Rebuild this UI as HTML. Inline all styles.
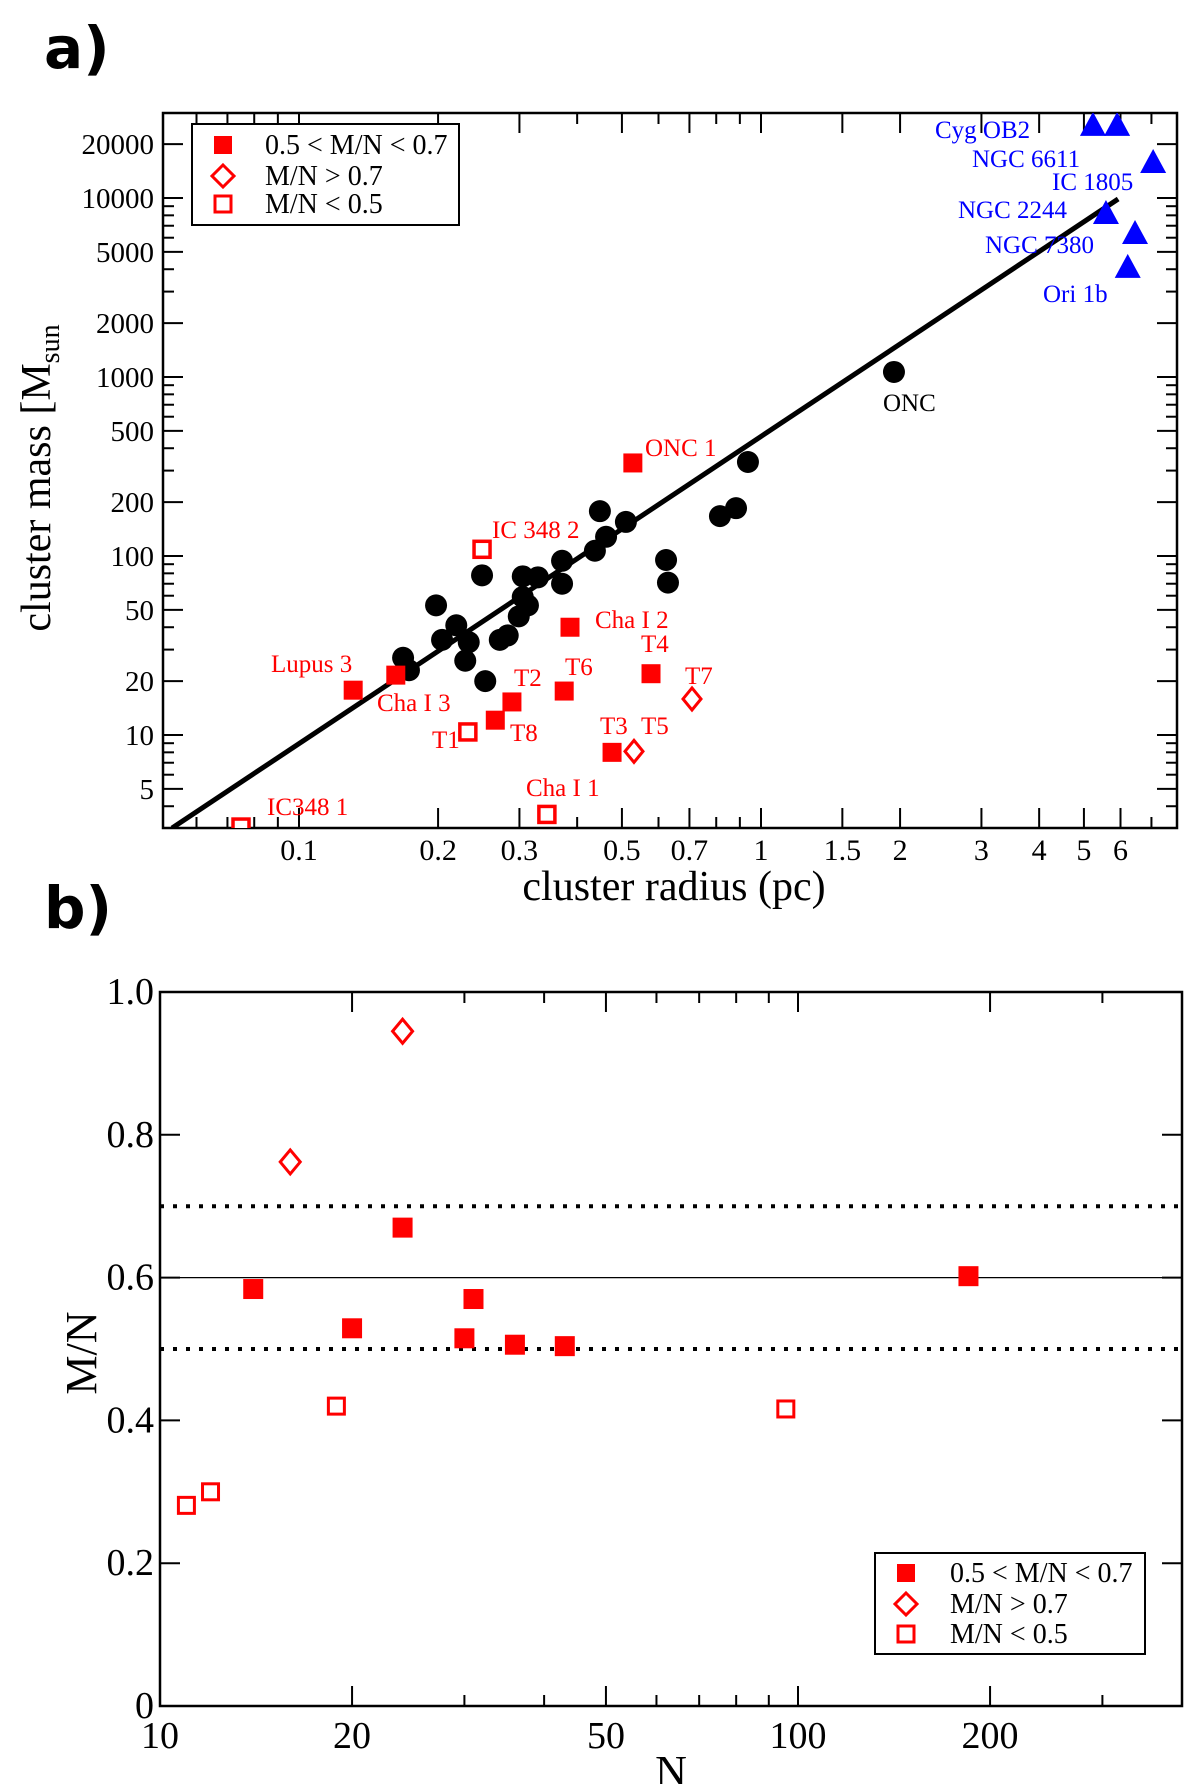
<!DOCTYPE html>
<html><head><meta charset="utf-8"><style>
html,body{margin:0;padding:0;background:#fff}
svg{display:block;font-family:"Liberation Serif",serif}
</style></head><body>
<svg id="fig" width="1200" height="1784" viewBox="0 0 1200 1784">
<text x="44" y="68" font-family="DejaVu Sans, sans-serif" font-weight="bold" font-size="58">a)</text>
<text x="44" y="928" font-family="DejaVu Sans, sans-serif" font-weight="bold" font-size="58">b)</text>
<g id="pa"></g>
<g id="pb"></g>
</svg>
<script>
// ---- Panel a data ----
const blackR = [1.94,0.937,0.883,0.815,0.623,0.629,0.448,0.510,0.462,0.437,0.371,0.371,0.329,0.305,0.249,0.305,0.313,0.299,0.283,0.272,0.198,0.219,0.204,0.233,0.229,0.253,0.168,0.173];
const blackM = [1067,335,185,167,95,71,178,155,128,107,94,70,76,77,78,59,53,46,36,34,53,41,34,33,26,20,27,23];
const filledNames = ["ONC 1","Cha I 2","T4","T6","T2","T8","Lupus 3","Cha I 3","T3"];
const filledR = [0.528,0.386,0.578,0.375,0.289,0.266,0.131,0.162,0.476];
const filledM = [331,40,22,17.6,15.3,12.1,17.8,21.6,8.0];
const openSqNames = ["IC 348 2","T1","Cha I 1","IC348 1"];
const openSqR = [0.249,0.232,0.344,0.0749];
const openSqM = [109,10.4,3.6,3.06];
const diamondNames = ["T7","T5"];
const diamondR = [0.709,0.531];
const diamondM = [15.9,8.1];
const triNames = ["Cyg OB2 a","Cyg OB2 b","NGC 6611","NGC 2244","NGC 7380","Ori 1b"];
const triR = [5.23,5.90,7.06,5.58,6.45,6.22];
const triM = [25600,25600,15900,8250,6370,4120];
const fitR = [0.0531,5.93];
const fitM = [3.02,9870];
const xTicksA = [0.1,0.2,0.3,0.5,0.7,1,1.5,2,3,4,5,6];
const xMinorA = [0.06,0.07,0.08,0.09,0.4,0.6,0.8,0.9,7];
const yTicksA = [5,10,20,50,100,200,500,1000,2000,5000,10000,20000];
const yMinorA = [3,4,6,7,8,9,30,40,60,70,80,90,300,400,600,700,800,900,3000,4000,6000,7000,8000,9000];
// ---- Panel b data ----
const bFilledN = [24.0,14.0,20.0,31.0,30.0,36.0,43.1,185];
const bFilledV = [0.670,0.584,0.529,0.570,0.515,0.506,0.504,0.602];
const bDiamondN = [24.0,16.0];
const bDiamondV = [0.945,0.762];
const bOpenN = [11.0,12.0,18.9,95.7];
const bOpenV = [0.281,0.300,0.420,0.416];
const xTicksB = [10,20,50,100,200];
const xMinorB = [30,40,60,70,80,90,300];
const yTicksB = [0,0.2,0.4,0.6,0.8,1.0];
const yTickLabelsB = ["0","0.2","0.4","0.6","0.8","1.0"];

const NS="http://www.w3.org/2000/svg";
function mk(parent,tag,attrs,text){const e=document.createElementNS(NS,tag);for(const k in attrs)e.setAttribute(k,attrs[k]);if(text!==undefined)e.textContent=text;parent.appendChild(e);return e;}
const RED="#ff0000", BLUE="#0000ff";

// axes a
const A={l:163,r:1177,t:113,b:828};
const xa=r=>761+462*Math.log10(r);
const ya=m=>198-179*Math.log10(m/10000);
const pa=document.getElementById('pa');
let e;
e=mk(pa,'rect',{x:A.l,y:A.t,width:A.r-A.l,height:A.b-A.t,fill:'none',stroke:'#000','stroke-width':2.5});


xTicksA.forEach(v=>{const x=xa(v);
 mk(pa,'line',{x1:x,x2:x,y1:A.b,y2:A.b-20,stroke:'#000','stroke-width':2});
 mk(pa,'line',{x1:x,x2:x,y1:A.t,y2:A.t+20,stroke:'#000','stroke-width':2});
 e=mk(pa,'text',{x:x,y:860,'text-anchor':'middle','font-size':30},String(v));
 
 
});
xMinorA.forEach(v=>{const x=xa(v);if(x<=A.l||x>=A.r)return;
 mk(pa,'line',{x1:x,x2:x,y1:A.b,y2:A.b-11,stroke:'#000','stroke-width':2});
 mk(pa,'line',{x1:x,x2:x,y1:A.t,y2:A.t+11,stroke:'#000','stroke-width':2});});
yTicksA.forEach(v=>{const y=ya(v);
 mk(pa,'line',{x1:A.l,x2:A.l+20,y1:y,y2:y,stroke:'#000','stroke-width':2});
 mk(pa,'line',{x1:A.r,x2:A.r-20,y1:y,y2:y,stroke:'#000','stroke-width':2});
 e=mk(pa,'text',{x:154,y:y+10,'text-anchor':'end','font-size':29},String(v));
 
 
});
yMinorA.forEach(v=>{const y=ya(v);if(y>=A.b||y<=A.t)return;
 mk(pa,'line',{x1:A.l,x2:A.l+11,y1:y,y2:y,stroke:'#000','stroke-width':2});
 mk(pa,'line',{x1:A.r,x2:A.r-11,y1:y,y2:y,stroke:'#000','stroke-width':2});});
e=mk(pa,'text',{x:674,y:900,'text-anchor':'middle','font-size':42},'cluster radius (pc)');


e=mk(pa,'text',{transform:'translate(50,478) rotate(-90)','text-anchor':'middle','font-size':42});


e.innerHTML='cluster mass [M<tspan font-size="28" dy="9">sun</tspan>';

const clip=mk(pa,'clipPath',{id:'ca'});mk(clip,'rect',{x:A.l,y:A.t,width:A.r-A.l,height:A.b-A.t});
const g=mk(pa,'g',{'clip-path':'url(#ca)'});
e=mk(g,'line',{x1:xa(fitR[0]),y1:ya(fitM[0]),x2:xa(fitR[1]),y2:ya(fitM[1]),stroke:'#000','stroke-width':5});


blackR.forEach((r,i)=>{e=mk(g,'circle',{cx:xa(r),cy:ya(blackM[i]),r:11,fill:'#000'});
 
 });
filledR.forEach((r,i)=>{e=mk(g,'rect',{x:xa(r)-9.5,y:ya(filledM[i])-9.5,width:19,height:19,fill:RED});
 
 });
openSqR.forEach((r,i)=>{e=mk(g,'rect',{x:xa(r)-8,y:ya(openSqM[i])-8,width:16,height:16,fill:'#fff',stroke:RED,'stroke-width':3.5});
 
 });
diamondR.forEach((r,i)=>{const x=xa(r),y=ya(diamondM[i]);
 e=mk(g,'polygon',{points:`${x},${y-11} ${x+9},${y} ${x},${y+11} ${x-9},${y}`,fill:'#fff',stroke:RED,'stroke-width':3});
 
 });
triR.forEach((r,i)=>{const x=xa(r),y=ya(triM[i]);
 e=mk(g,'polygon',{points:`${x},${y-13} ${x+13},${y+11} ${x-13},${y+11}`,fill:BLUE});
 
 });

const labelsA=[["ONC 1",645,456,RED],["IC 348 2",492,538,RED],["Cha I 2",595,628,RED],["T4",641,652,RED],["T7",685,684,RED],["T6",565,675,RED],["T2",514,686,RED],["Lupus 3",271,672,RED],["Cha I 3",377,711,RED],["T1",432,748,RED],["T8",510,741,RED],["T3",600,734,RED],["T5",641,734,RED],["Cha I 1",526,796,RED],["IC348 1",267,815,RED],["ONC",883,411,'#000'],
["Cyg OB2",935,138,BLUE],["NGC 6611",972,167,BLUE],["IC 1805",1052,190,BLUE],["NGC 2244",958,218,BLUE],["NGC 7380",985,253,BLUE],["Ori 1b",1043,302,BLUE]];
labelsA.forEach(L=>{e=mk(pa,'text',{x:L[1],y:L[2],fill:L[3],'font-size':25},L[0]);
 
 });

function legend(parent,bx,by,bw,bh,mx,tx,rows,fs){
 e=mk(parent,'rect',{x:bx,y:by,width:bw,height:bh,fill:'#fff',stroke:'#000','stroke-width':2});
 
 
 const items=["0.5 < M/N < 0.7","M/N > 0.7","M/N < 0.5"];
 rows.forEach((y,i)=>{
  if(i===0)mk(parent,'rect',{x:mx-9,y:y-9,width:18,height:18,fill:RED});
  if(i===1)mk(parent,'polygon',{points:`${mx},${y-11} ${mx+11},${y} ${mx},${y+11} ${mx-11},${y}`,fill:'#fff',stroke:RED,'stroke-width':3});
  if(i===2)mk(parent,'rect',{x:mx-8,y:y-8,width:16,height:16,fill:'#fff',stroke:RED,'stroke-width':3});
  e=mk(parent,'text',{x:tx,y:y+9,'font-size':fs},items[i]);
  
  
 });
}
legend(pa,192,124,267,101,223,265,[145,176,204],28);

// axes b
const B={l:160,r:1182,t:992,b:1706};
const xb=n=>160+638*Math.log10(n/10);
const yb=v=>1706-714*v;
const pb=document.getElementById('pb');
e=mk(pb,'rect',{x:B.l,y:B.t,width:B.r-B.l,height:B.b-B.t,fill:'none',stroke:'#000','stroke-width':2.5});


xTicksB.forEach(v=>{const x=xb(v);
 mk(pb,'line',{x1:x,x2:x,y1:B.b,y2:B.b-20,stroke:'#000','stroke-width':2});
 mk(pb,'line',{x1:x,x2:x,y1:B.t,y2:B.t+20,stroke:'#000','stroke-width':2});
 e=mk(pb,'text',{x:x,y:1748,'text-anchor':'middle','font-size':38},String(v));
 
 });
xMinorB.forEach(v=>{const x=xb(v);
 mk(pb,'line',{x1:x,x2:x,y1:B.b,y2:B.b-11,stroke:'#000','stroke-width':2});
 mk(pb,'line',{x1:x,x2:x,y1:B.t,y2:B.t+11,stroke:'#000','stroke-width':2});});
yTicksB.forEach((v,i)=>{const y=yb(v);
 mk(pb,'line',{x1:B.l,x2:B.l+20,y1:y,y2:y,stroke:'#000','stroke-width':2});
 mk(pb,'line',{x1:B.r,x2:B.r-20,y1:y,y2:y,stroke:'#000','stroke-width':2});
 e=mk(pb,'text',{x:154,y:y+12,'text-anchor':'end','font-size':38},yTickLabelsB[i]);
 
 });
e=mk(pb,'text',{x:671,y:1786,'text-anchor':'middle','font-size':44},'N');


e=mk(pb,'text',{transform:'translate(96,1353) rotate(-90)','text-anchor':'middle','font-size':44},'M/N');


[0.7,0.5].forEach(v=>{e=mk(pb,'line',{x1:B.l,x2:B.r,y1:yb(v),y2:yb(v),stroke:'#000','stroke-width':4,'stroke-dasharray':'4 9'});
 
 });
e=mk(pb,'line',{x1:B.l,x2:B.r,y1:yb(0.6),y2:yb(0.6),stroke:'#000','stroke-width':1.2});


bFilledN.forEach((n,i)=>{e=mk(pb,'rect',{x:xb(n)-10,y:yb(bFilledV[i])-10,width:20,height:20,fill:RED});
 
 });
bDiamondN.forEach((n,i)=>{const x=xb(n),y=yb(bDiamondV[i]);
 e=mk(pb,'polygon',{points:`${x},${y-12} ${x+10},${y} ${x},${y+12} ${x-10},${y}`,fill:'#fff',stroke:RED,'stroke-width':3});
 
 });
bOpenN.forEach((n,i)=>{e=mk(pb,'rect',{x:xb(n)-8,y:yb(bOpenV[i])-8,width:16,height:16,fill:'#fff',stroke:RED,'stroke-width':3});
 
 });
legend(pb,875,1553,270,101,906,950,[1573,1604,1634],28);
</script>
</body></html>
